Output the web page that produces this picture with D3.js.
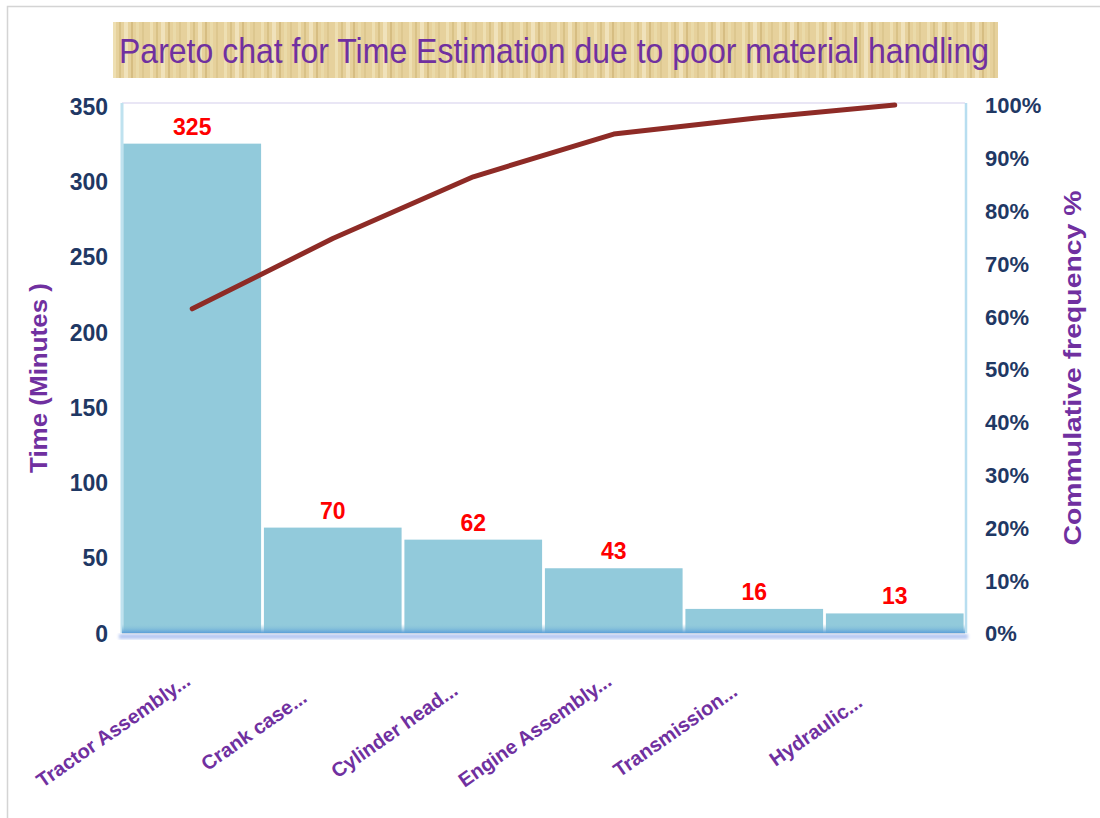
<!DOCTYPE html>
<html>
<head>
<meta charset="utf-8">
<script src="https://cdn.jsdelivr.net/npm/d3@7"></script>
<style>
  body { margin: 0; background: #fff; }
  svg { display: block; }
</style>
</head>
<body>
<div id="chart"></div>
<script>
// data
const categories = ["Tractor Assembly...", "Crank case...", "Cylinder head...", "Engine Assembly...", "Transmission...", "Hydraulic..."];
const times = [325, 70, 62, 43, 16, 13];
const cumulative = [61.4, 74.7, 86.4, 94.5, 97.5, 100];
const leftTicks = [0, 50, 100, 150, 200, 250, 300, 350];
const rightTicks = [0, 10, 20, 30, 40, 50, 60, 70, 80, 90, 100];

const width = 1100, height = 818;
const plot = { left: 122, right: 965, top: 105, bottom: 633 };
const purple = "#7030A0", navy = "#1F3864";
const font = "Liberation Sans, Arial, sans-serif";

const svg = d3.select("#chart").append("svg")
    .attr("width", width)
    .attr("height", height);

const defs = svg.append("defs");

// papyrus-ish texture for the title
const pat = defs.append("pattern")
    .attr("id", "papyrus")
    .attr("patternUnits", "userSpaceOnUse")
    .attr("width", 37).attr("height", 56);
pat.append("rect").attr("width", 37).attr("height", 56).attr("fill", "#e6d19c");
[[2, 3, "#eedfb2"], [8, 2, "#d9c287"], [13, 4, "#f0e2bb"], [20, 2, "#d6bd82"], [25, 3, "#eadaa9"], [31, 2, "#ddc78f"]]
    .forEach(([x, w, c]) => pat.append("rect").attr("x", x).attr("width", w).attr("height", 56).attr("fill", c));

const floor = defs.append("linearGradient")
    .attr("id", "floor").attr("x1", 0).attr("x2", 0).attr("y1", 0).attr("y2", 1);
floor.append("stop").attr("offset", "0%").attr("stop-color", "#92cadb").attr("stop-opacity", 0);
floor.append("stop").attr("offset", "100%").attr("stop-color", "#5b9fd8");

const blur = defs.append("filter").attr("id", "blur");
blur.append("feGaussianBlur").attr("stdDeviation", 1.5);

// outer border
svg.append("path")
    .attr("d", `M7.5,${height}V6.5H${width}`)
    .attr("fill", "none")
    .attr("stroke", "#d4d4d4")
    .attr("stroke-width", 1.5);

// title
svg.append("rect")
    .attr("x", 113).attr("y", 22)
    .attr("width", 885).attr("height", 56)
    .attr("fill", "url(#papyrus)");

svg.append("text")
    .attr("x", 119).attr("y", 63)
    .attr("textLength", 870)
    .attr("lengthAdjust", "spacingAndGlyphs")
    .attr("font-family", "Liberation Sans Narrow, " + font)
    .attr("font-size", 35)
    .attr("fill", purple)
    .text("Pareto chat for Time Estimation due to poor material handling");

// Scales
const x = d3.scaleBand()
    .domain(categories)
    .range([plot.left, plot.right])
    .paddingInner(0.02)
    .paddingOuter(0.01);

const y = d3.scaleLinear()
    .domain([0, 350])
    .range([plot.bottom, plot.top + 1]);

const yPct = d3.scaleLinear()
    .domain([0, 100])
    .range([plot.bottom, plot.top]);

// plot frame
svg.append("line")
    .attr("x1", plot.left).attr("x2", plot.right)
    .attr("y1", plot.top - 2).attr("y2", plot.top - 2)
    .attr("stroke", "#e2def2").attr("stroke-width", 1.5);
svg.append("line")
    .attr("x1", plot.left).attr("x2", plot.left)
    .attr("y1", plot.top - 2).attr("y2", plot.bottom)
    .attr("stroke", "#bfe2ef").attr("stroke-width", 3);
svg.append("line")
    .attr("x1", plot.right + 1).attr("x2", plot.right + 1)
    .attr("y1", plot.top - 2).attr("y2", plot.bottom)
    .attr("stroke", "#b8def0").attr("stroke-width", 2.5);

// bars
svg.selectAll("rect.bar")
    .data(times)
    .join("rect")
    .attr("class", "bar")
    .attr("x", (d, i) => x(categories[i]))
    .attr("y", d => y(d))
    .attr("width", x.bandwidth())
    .attr("height", d => y(0) - y(d))
    .attr("fill", "#92cadb");

// floor strip along the bottom axis
svg.append("rect")
    .attr("x", plot.left - 3).attr("y", plot.bottom + 1)
    .attr("width", plot.right - plot.left + 6).attr("height", 5)
    .attr("fill", "#b6c8f2")
    .attr("filter", "url(#blur)");
svg.append("rect")
    .attr("x", plot.left).attr("y", plot.bottom - 9)
    .attr("width", plot.right - plot.left).attr("height", 9)
    .attr("fill", "url(#floor)");
svg.append("line")
    .attr("x1", plot.left).attr("x2", plot.right)
    .attr("y1", plot.bottom + 0.5).attr("y2", plot.bottom + 0.5)
    .attr("stroke", "#c9d6e6").attr("stroke-width", 1);

// value labels
svg.selectAll("text.value")
    .data(times)
    .join("text")
    .attr("class", "value")
    .attr("x", (d, i) => x(categories[i]) + x.bandwidth() / 2)
    .attr("y", d => y(d) - 9)
    .attr("text-anchor", "middle")
    .attr("font-family", font)
    .attr("font-weight", "bold")
    .attr("font-size", 23)
    .attr("fill", "#ff0000")
    .text(d => d);

// cumulative line
const line = d3.line()
    .x((d, i) => x(categories[i]) + x.bandwidth() / 2)
    .y(d => yPct(d));

svg.append("path")
    .datum(cumulative)
    .attr("d", line)
    .attr("fill", "none")
    .attr("stroke", "#8e2b26")
    .attr("stroke-width", 5)
    .attr("stroke-linejoin", "round")
    .attr("stroke-linecap", "round");

// Add axes
const yAxis = g => g
    .attr("transform", `translate(${plot.left - 14},0)`)
    .call(d3.axisLeft(y).tickValues(leftTicks).tickSize(0).tickPadding(0))
    .call(g => g.select(".domain").remove())
    .call(g => g.selectAll("text")
        .attr("font-family", font)
        .attr("font-weight", "bold")
        .attr("font-size", 23)
        .attr("fill", navy)
        .attr("dy", "0.36em"));

const yAxisRight = g => g
    .attr("transform", `translate(${plot.right + 20},0)`)
    .call(d3.axisRight(yPct).tickValues(rightTicks).tickSize(0).tickPadding(0)
        .tickFormat(d => d + "%"))
    .call(g => g.select(".domain").remove())
    .call(g => g.selectAll("text")
        .attr("font-family", font)
        .attr("font-weight", "bold")
        .attr("font-size", 22)
        .attr("fill", navy)
        .attr("dy", "0.36em"));

svg.append("g").call(yAxis);
svg.append("g").call(yAxisRight);

// category labels, rotated
svg.selectAll("text.cat")
    .data(categories)
    .join("text")
    .attr("class", "cat")
    .attr("transform", d => `translate(${x(d) + x.bandwidth() / 2 - 75},736) rotate(-35)`)
    .attr("text-anchor", "middle")
    .attr("font-family", font)
    .attr("font-weight", "bold")
    .attr("font-size", 20)
    .attr("fill", purple)
    .text(d => d);

// axis titles
svg.append("text")
    .attr("transform", "translate(47,378) rotate(-90)")
    .attr("text-anchor", "middle")
    .attr("textLength", 190)
    .attr("lengthAdjust", "spacingAndGlyphs")
    .attr("font-family", font)
    .attr("font-weight", "bold")
    .attr("font-size", 24)
    .attr("fill", purple)
    .text("Time (Minutes )");

svg.append("text")
    .attr("transform", "translate(1081,368) rotate(-90)")
    .attr("text-anchor", "middle")
    .attr("textLength", 355)
    .attr("lengthAdjust", "spacingAndGlyphs")
    .attr("font-family", font)
    .attr("font-weight", "bold")
    .attr("font-size", 23)
    .attr("fill", purple)
    .text("Commulative frequency %");
</script>
</body>
</html>
